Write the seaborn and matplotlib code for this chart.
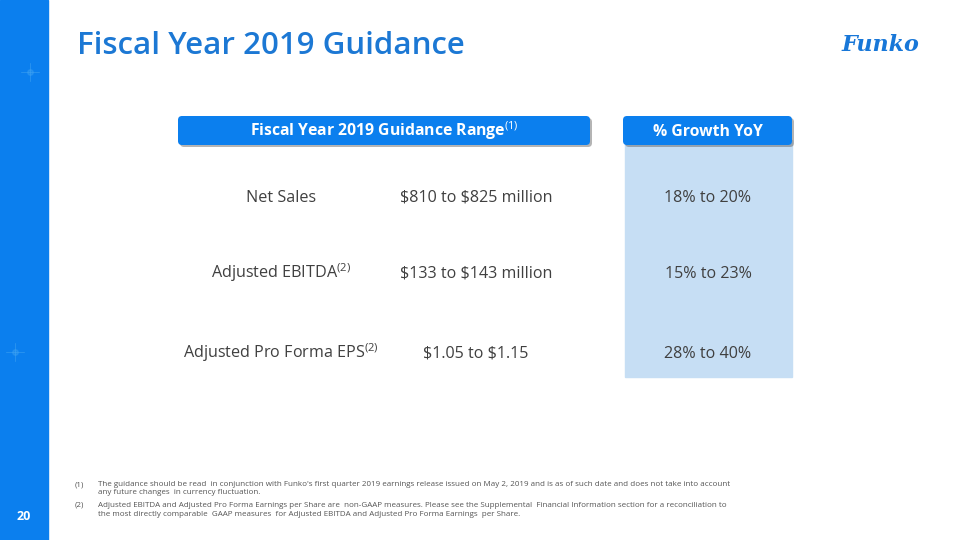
import matplotlib.pyplot as plt
import seaborn as sns
from matplotlib.patches import FancyBboxPatch, Rectangle

# slide content
title = "Fiscal Year 2019 Guidance"
header_range = "Fiscal Year 2019 Guidance Range$^{(1)}$"
header_growth = "% Growth YoY"
metrics = ["Net Sales", "Adjusted EBITDA$^{(2)}$", "Adjusted Pro Forma EPS$^{(2)}$"]
guidance = ["\\$810 to \\$825 million", "\\$133 to \\$143 million", "\\$1.05 to \\$1.15"]
growth = ["18% to 20%", "15% to 23%", "28% to 40%"]
footnotes = [
    ("(1)", "The guidance should be read  in conjunction with Funko's first quarter 2019 earnings release issued on May 2, 2019 and is as of such date and does not take into account\nany future changes  in currency fluctuation."),
    ("(2)", "Adjusted EBITDA and Adjusted Pro Forma Earnings per Share are  non-GAAP measures. Please see the Supplemental  Financial Information section for a reconciliation to\nthe most directly comparable  GAAP measures  for Adjusted EBITDA and Adjusted Pro Forma Earnings  per Share."),
]
page_no = "20"

BLUE = "#0B7FEE"
TITLE_BLUE = "#1C78D4"
LIGHT = "#C6DEF4"
GREY = "#404040"

sns.set_theme(style="white")
plt.rcParams['font.family'] = ['Open Sans', 'DejaVu Sans']
plt.rcParams['mathtext.fontset'] = 'custom'
plt.rcParams['mathtext.rm'] = 'Open Sans'
plt.rcParams['mathtext.it'] = 'Open Sans:italic'
plt.rcParams['mathtext.bf'] = 'Open Sans:bold'

fig = plt.figure(figsize=(9.6, 5.4), dpi=100)
ax = fig.add_axes([0, 0, 1, 1])
ax.set_xlim(0, 960)
ax.set_ylim(540, 0)
ax.axis('off')

# left band with faint sparkles
ax.add_patch(Rectangle((0, 0), 48, 540, color=BLUE, zorder=1))
for sx, sy in [(30, 72), (15, 352)]:
    ax.plot([sx - 9, sx + 9], [sy, sy], color="#43a6f2", lw=0.7, alpha=0.5, zorder=2)
    ax.plot([sx, sx], [sy - 9, sy + 9], color="#43a6f2", lw=0.7, alpha=0.5, zorder=2)
    ax.plot(sx, sy, 'o', ms=4, color="#43a6f2", alpha=0.35, zorder=2)
ax.text(24, 516, page_no, color="white", fontsize=9, fontweight='bold', ha='center', va='center')

# title and logo
ax.text(77, 46, title, color=TITLE_BLUE, fontsize=22.5, fontweight='semibold', ha='left', va='center')
ax.text(880, 45, "Funko", color="#1877D8", fontsize=16, fontweight='bold', fontstyle='italic',
        family=['DejaVu Serif'], ha='center', va='center')

# table
row_y = [196, 272, 352]
ax.add_patch(Rectangle((625, 140), 167, 237, color=LIGHT, zorder=1))
for x0, w, label in [(178, 412, header_range), (623, 169, header_growth)]:
    ax.add_patch(FancyBboxPatch((x0 + 2, 118), w, 29, boxstyle="round,pad=0,rounding_size=4",
                                color="#5a5a5a", alpha=0.45, zorder=2, lw=0))
    ax.add_patch(FancyBboxPatch((x0, 116), w, 29, boxstyle="round,pad=0,rounding_size=4",
                                color=BLUE, zorder=3, lw=0))
    ax.text(x0 + w / 2, 136, label, color="white", fontsize=11.3, fontweight='bold',
            ha='center', va='baseline', zorder=4)

for y, m, g, p in zip(row_y, metrics, guidance, growth):
    ax.text(281, y + 5.5, m, color=GREY, fontsize=11.6, ha='center', va='baseline')
    ax.text(476, y + 5.5, g, color=GREY, fontsize=11.6, ha='center', va='baseline')
    ax.text(708, y + 5.5, p, color=GREY, fontsize=11.6, ha='center', va='baseline')

# footnotes
fy = 481
for num, txt in footnotes:
    ax.text(75, fy, num, color="#555555", fontsize=5.75, ha='left', va='top')
    ax.text(98, fy, txt, color="#555555", fontsize=5.75, ha='left', va='top', linespacing=1.3)
    fy += 21

fig.savefig("out.png", dpi=100)
